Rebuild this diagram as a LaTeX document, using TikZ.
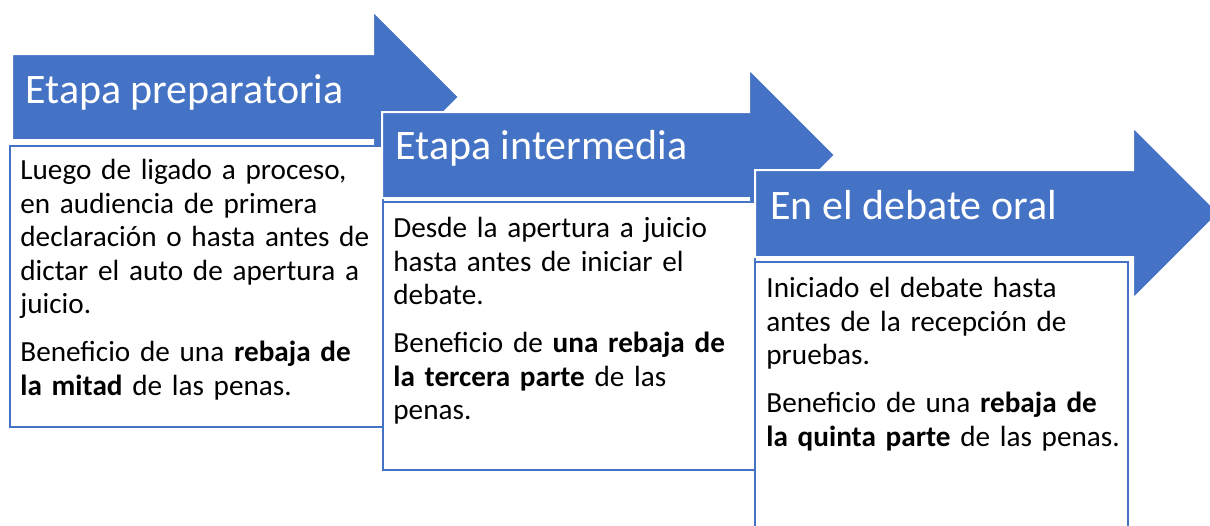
\documentclass[tikz,border=0pt]{standalone}
\usepackage{fontspec}
\setmainfont{Carlito}
\definecolor{stageblue}{HTML}{4472C4}
\tikzset{
  stagearrow/.style={fill=stageblue, draw=white, line width=1pt},
  stagebox/.style={fill=white, draw=stageblue, line width=0.75pt},
  stagetitle/.style={anchor=base west, inner sep=0pt, text=white, font=\fontsize{21}{25}\selectfont},
  stagetext/.style={anchor=north west, inner sep=0pt, text width=190pt, align=left, font=\fontsize{14.6}{16.75}\selectfont}
}
\begin{document}
\begin{tikzpicture}[x=0.5pt, y=-0.5pt]
	\useasboundingbox (0, 0) rectangle (1210, 525);
	\clip (0, 0) rectangle (1210, 525);
	
	% etapa preparatoria
	\draw[stagearrow] (12, 54) -- (373, 54) -- (373, 11) -- (459, 97) -- (373, 183) -- (373, 140) -- (12, 140) -- cycle;
	\draw[stagebox] (10, 146) rectangle (383, 427);
	\node[stagetitle] (prep) at (25, 103) {Etapa preparatoria};
	\node[stagetext] (preptext) at (20, 159) {Luego de ligado a proceso,\\ en audiencia de primera\\ declaración o hasta antes de\\ dictar el auto de apertura a\\ juicio.\\[7.25pt] Beneficio de una \textbf{rebaja de}\\ \textbf{la mitad} de las penas.};
	
	% etapa intermedia
	\draw[stagearrow] (382, 112) -- (749, 112) -- (749, 69) -- (835, 155) -- (749, 241) -- (749, 198) -- (382, 198) -- cycle;
	\draw[stagebox] (383, 202) rectangle (755, 470);
	\node[stagetitle] (inter) at (395, 159) {Etapa intermedia};
	\node[stagetext] (intertext) at (393, 217) {Desde la apertura a juicio\\ hasta antes de iniciar el\\ debate.\\[7.25pt] Beneficio de \textbf{una rebaja de}\\ \textbf{la tercera parte} de las\\ penas.};
	
	% debate oral
	\draw[stagearrow] (755, 170) -- (1133, 170) -- (1133, 127) -- (1219, 213) -- (1133, 299) -- (1133, 257) -- (755, 257) -- cycle;
	\draw[stagebox] (755, 262) rectangle (1128, 540);
	\node[stagetitle] (oral) at (770, 219) {En el debate oral};
	\node[stagetext] (oraltext) at (766, 277) {Iniciado el debate hasta\\ antes de la recepción de\\ pruebas.\\[7.25pt] Beneficio de una \textbf{rebaja de}\\ \textbf{la quinta parte} de las penas.};
\end{tikzpicture}
\end{document}
